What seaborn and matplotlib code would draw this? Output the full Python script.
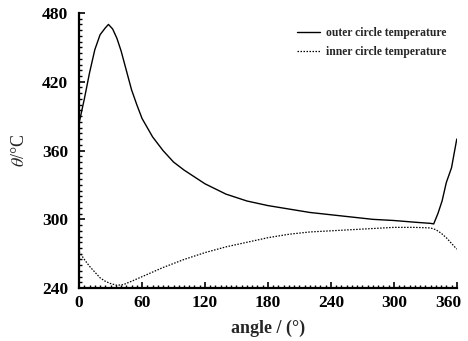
import matplotlib
matplotlib.use("Agg")
import matplotlib.pyplot as plt
import matplotlib.transforms as mtransforms
import seaborn as sns
import pandas as pd
from matplotlib.ticker import MultipleLocator

outer_angle = [0, 5, 10, 15, 20, 25, 28, 32, 36, 40, 45, 50, 55, 60, 70, 80, 90, 100,
               120, 140, 160, 180, 200, 220, 240, 260, 280, 300, 320, 335, 338, 342,
               346, 350, 355, 360]
outer_temp = [384, 405, 428, 448, 461, 467, 470, 466, 458, 447, 430, 413, 400, 388,
              372, 360, 350, 343, 331, 322, 316, 312, 309, 306, 304, 302, 300, 299,
              297.5, 296.5, 296, 305, 316, 332, 345, 370]

inner_angle = [0, 5, 10, 15, 20, 25, 30, 36, 42, 50, 60, 80, 100, 120, 140, 160, 180,
               200, 220, 240, 260, 280, 300, 320, 335, 340, 345, 350, 355, 360]
inner_temp = [272, 265, 259, 254, 249, 246, 244, 242.5, 243, 246, 250, 258, 265, 271,
              276, 280, 284, 287, 289, 290, 291, 292, 293, 293, 292.5, 291, 288, 284,
              279, 274]

x_ticks = [0, 60, 120, 180, 240, 300, 360]
y_ticks = [240, 300, 360, 420, 480]

sns.set_theme(style="ticks")
plt.rcParams['font.family'] = ['Liberation Serif', 'DejaVu Serif']
plt.rcParams['mathtext.fontset'] = 'stix'

df_o = pd.DataFrame({"angle": outer_angle, "temp": outer_temp})
df_i = pd.DataFrame({"angle": inner_angle, "temp": inner_temp})

fig = plt.figure(figsize=(4.68, 3.41), dpi=100)
ax = fig.add_axes([0.169, 0.155, 0.807, 0.807])

sns.lineplot(data=df_o, x="angle", y="temp", ax=ax, color="black", lw=1.0,
             label="outer circle temperature")
sns.lineplot(data=df_i, x="angle", y="temp", ax=ax, color="black", lw=0.9,
             linestyle=(0, (1.2, 1.2)), label="inner circle temperature")

ax.set_xlim(0, 360)
ax.set_ylim(240, 480)
ax.set_xticks(x_ticks)
ax.set_yticks(y_ticks)
ax.xaxis.set_minor_locator(MultipleLocator(5))
ax.yaxis.set_minor_locator(MultipleLocator(5))
ax.tick_params(which="major", direction="in", length=4, width=1.2, labelsize=12.5,
               colors="black")
ax.tick_params(axis="x", which="major", pad=5)
ax.tick_params(axis="y", which="major", pad=8)
ax.tick_params(which="minor", direction="in", length=2, width=1.0, colors="black")
for lab in ax.get_xticklabels() + ax.get_yticklabels():
    lab.set_fontweight("bold")
last = ax.get_xticklabels()[-1]
last.set_transform(last.get_transform() +
                   mtransforms.ScaledTranslation(-6 / 72, 0, fig.dpi_scale_trans))
for s in ["top", "right"]:
    ax.spines[s].set_visible(False)
for s in ["left", "bottom"]:
    ax.spines[s].set_linewidth(1.6)
    ax.spines[s].set_color("black")

ax.set_xlabel("angle / (°)", fontsize=13, fontweight="bold", labelpad=6)
ax.set_ylabel(r"$\theta$/°C", fontsize=13, labelpad=10)

leg = ax.legend(loc="upper left", frameon=False, fontsize=8.4, handlelength=2.0,
                handletextpad=0.45, labelspacing=0.55, borderaxespad=0.0,
                bbox_to_anchor=(0.565, 0.965))
for t in leg.get_texts():
    t.set_fontweight("bold")

fig.savefig("out.png", dpi=100)
